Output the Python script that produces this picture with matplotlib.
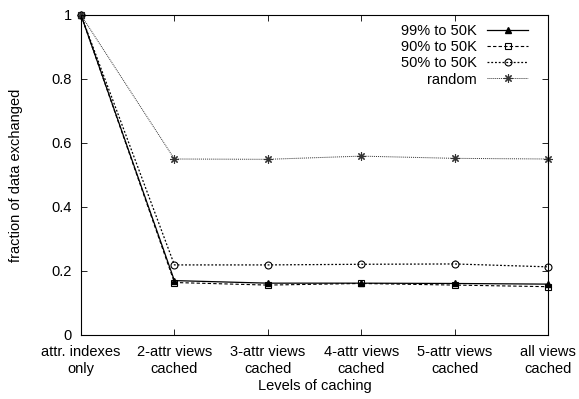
import matplotlib
matplotlib.use("Agg")
import matplotlib.pyplot as plt

plt.rcParams['font.family'] = ['Liberation Sans', 'DejaVu Sans']

levels = ["attr. indexes\nonly", "2-attr views\ncached", "3-attr views\ncached",
          "4-attr views\ncached", "5-attr views\ncached", "all views\ncached"]
p99 = [1.0, 0.170, 0.162, 0.162, 0.161, 0.159]
p90 = [1.0, 0.164, 0.156, 0.161, 0.156, 0.151]
p50 = [1.0, 0.219, 0.219, 0.221, 0.222, 0.213]
rnd = [1.0, 0.550, 0.549, 0.559, 0.552, 0.550]

fig = plt.figure(figsize=(5.79, 3.99), dpi=100)
ax = fig.add_axes([81/579, 64/399, 467/579, 320/399])

xs = range(len(levels))
ax.plot(xs, p99, '-', color='black', lw=0.9, marker='^', ms=4,
        mfc='black', clip_on=False, label='99% to 50K')
ax.plot(xs, p90, '--', color='black', lw=0.8, marker='s', ms=5,
        mfc='none', mew=0.8, dashes=(3, 2), clip_on=False, label='90% to 50K')
ax.plot(xs, p50, ':', color='black', lw=0.9, marker='o', ms=5,
        mfc='none', mew=0.8, dashes=(1.5, 1.5), clip_on=False, label='50% to 50K')
ax.plot(xs, rnd, ':', color='#333333', lw=0.7, marker=(8, 2, 0), ms=6,
        mew=0.8, dashes=(1, 1), clip_on=False, label='random')

ax.set_xlim(0, len(levels) - 1)
ax.set_ylim(0, 1)
ax.set_xticks(list(xs))
ax.set_xticklabels(levels, fontsize=10.5, linespacing=1.3)
ax.set_yticks([0, 0.2, 0.4, 0.6, 0.8, 1])
ax.set_yticklabels(['0', '0.2', '0.4', '0.6', '0.8', '1'], fontsize=10.5)
ax.tick_params(direction='in', top=True, right=True, length=4, width=0.6)
ax.tick_params(axis='x', pad=7)
ax.tick_params(axis='y', pad=6.5)
for s in ax.spines.values():
    s.set_linewidth(0.8)

ax.set_xlabel('Levels of caching', fontsize=10.5, labelpad=2)
ax.set_ylabel('fraction of data exchanged', fontsize=10.5)
ax.yaxis.set_label_coords(-0.124, 0.5)

leg = ax.legend(loc='upper right', bbox_to_anchor=(0.957, 0.972), frameon=False,
                fontsize=10.5, markerfirst=False, handlelength=2.8,
                labelspacing=0.15, borderpad=0, borderaxespad=0,
                handletextpad=0.7)
for t in leg.get_texts():
    t.set_ha('right')
leg._legend_box.align = 'right'

fig.savefig('out.png', dpi=100)
